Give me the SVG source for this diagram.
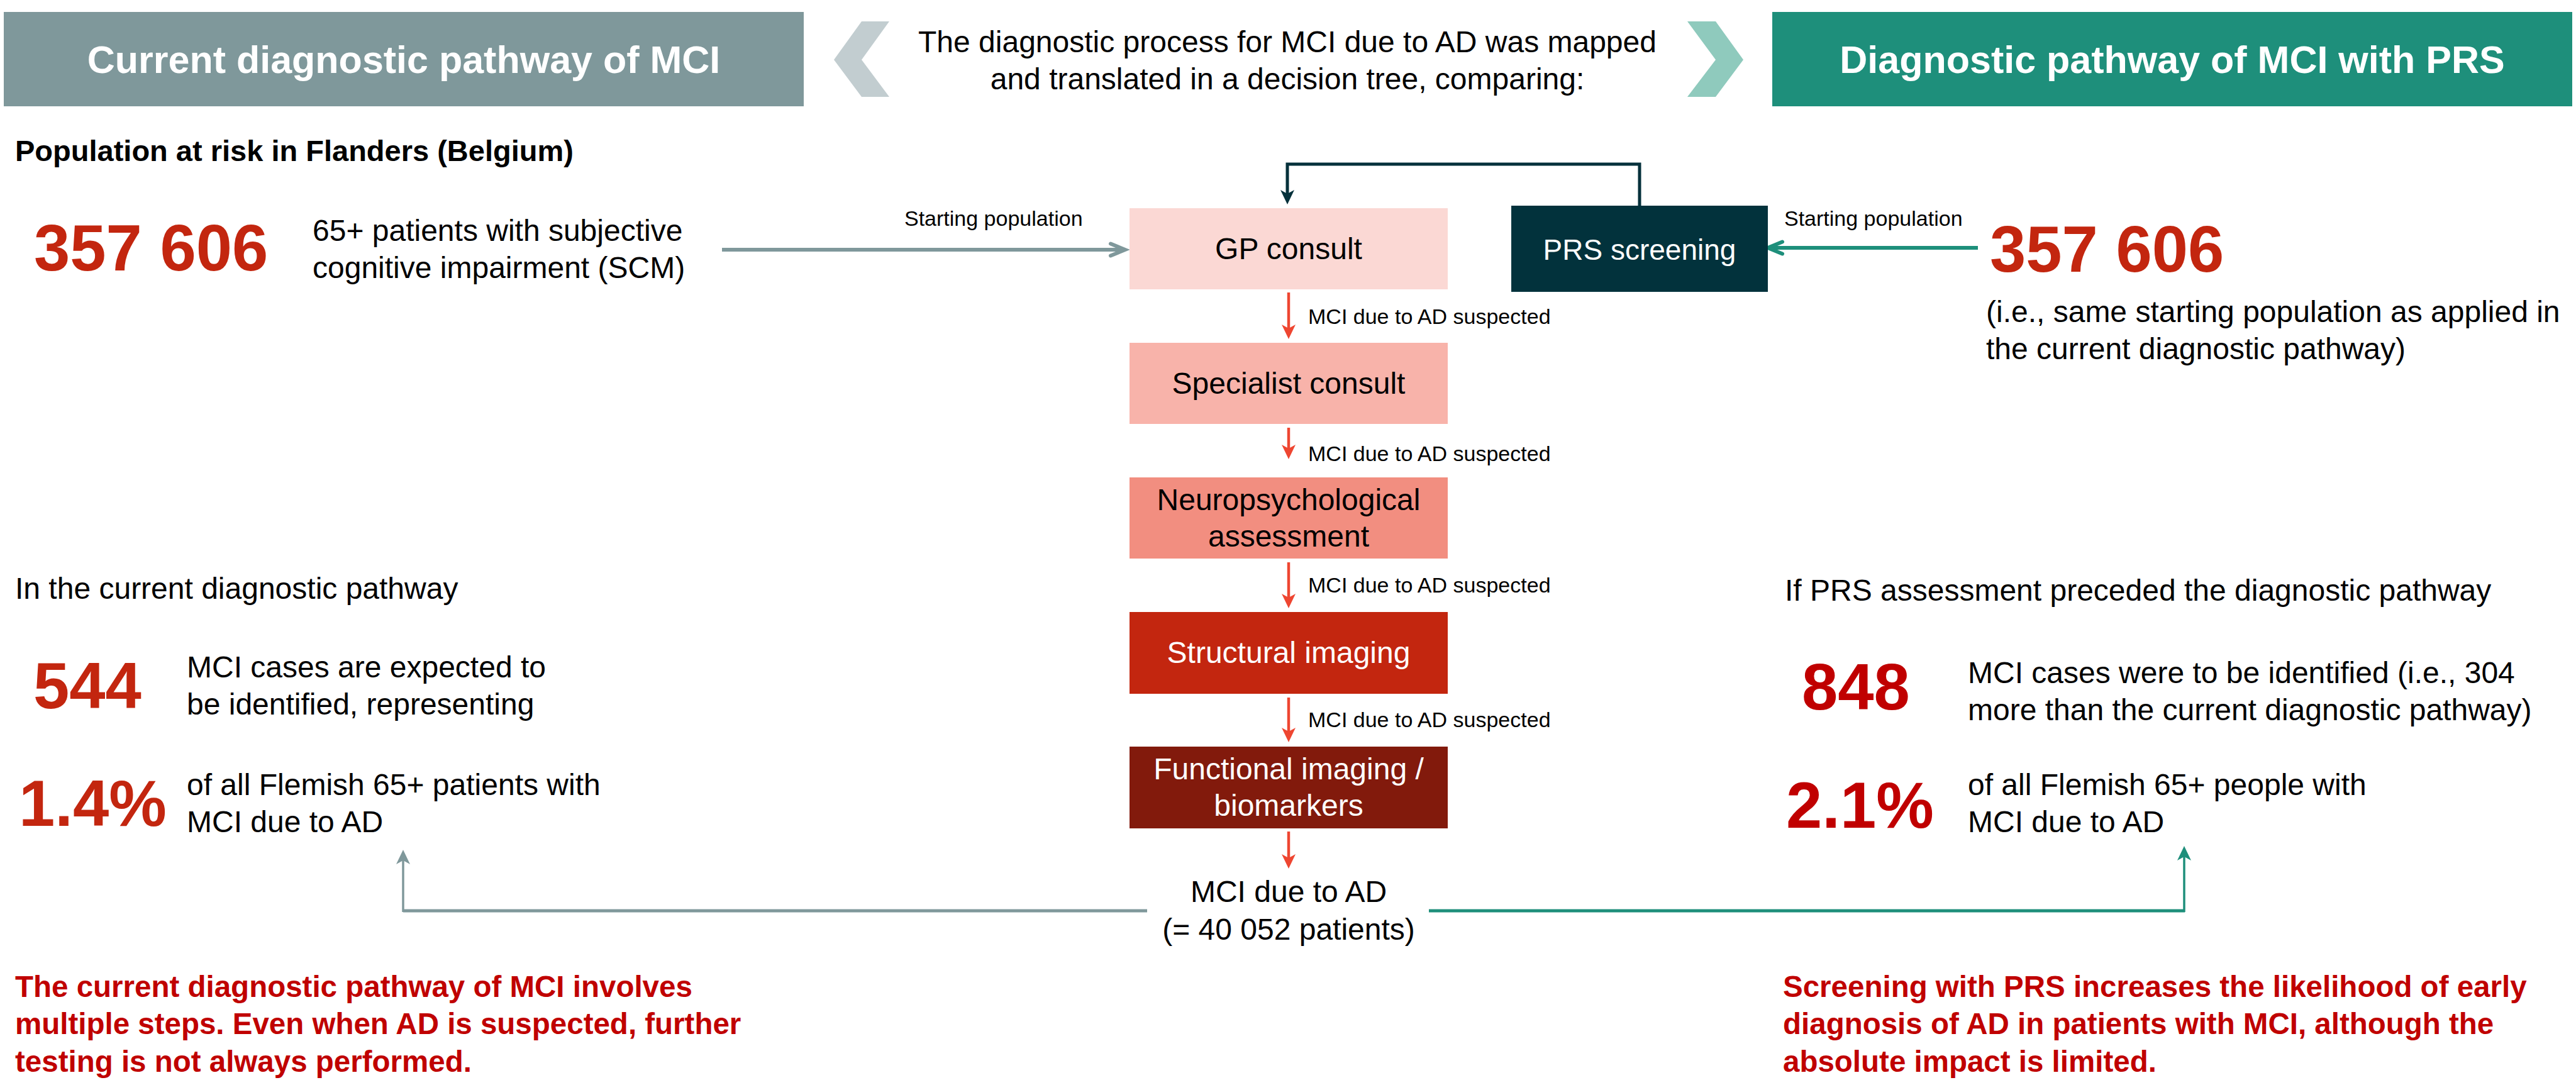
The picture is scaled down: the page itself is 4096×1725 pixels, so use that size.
<svg xmlns="http://www.w3.org/2000/svg" width="4096" height="1725" viewBox="0 0 4096 1725">
<style>
text{font-family:"Liberation Sans",Arial,sans-serif;fill:#000}
.hdr{font-size:61px;font-weight:bold;fill:#fff;text-anchor:middle}
.body{font-size:48px}
.mid{text-anchor:middle}
.lbl{font-size:34px}
.big{font-size:103px;font-weight:bold;fill:#C3260F}
.big2{font-size:103px;font-weight:bold;fill:#C00000}
.bold{font-size:47px;font-weight:bold}
.concl{font-size:47.5px;font-weight:bold;fill:#C00000}
.wt{fill:#fff}
.red{stroke:#EE4631;stroke-width:4.5;fill:none}
</style>
<defs>
<marker id="stRed" markerUnits="userSpaceOnUse" viewBox="0 0 24 24" markerWidth="24" markerHeight="24" refX="15" refY="12" orient="auto"><path d="M0,1 L23,12 L0,23 L6,12 Z" fill="#EE4631"/></marker>
<marker id="stDark" markerUnits="userSpaceOnUse" viewBox="0 0 24 24" markerWidth="24" markerHeight="24" refX="15" refY="12" orient="auto"><path d="M0,1 L23,12 L0,23 L6,12 Z" fill="#05313B"/></marker>
<marker id="stGray" markerUnits="userSpaceOnUse" viewBox="0 0 24 24" markerWidth="24" markerHeight="24" refX="15" refY="12" orient="auto"><path d="M0,1 L23,12 L0,23 L6,12 Z" fill="#7F989B"/></marker>
<marker id="stTeal" markerUnits="userSpaceOnUse" viewBox="0 0 24 24" markerWidth="24" markerHeight="24" refX="15" refY="12" orient="auto"><path d="M0,1 L23,12 L0,23 L6,12 Z" fill="#1E8F7B"/></marker>
<marker id="vGray" markerUnits="userSpaceOnUse" viewBox="0 0 30 26" markerWidth="30" markerHeight="26" refX="23" refY="13" orient="auto" overflow="visible"><path d="M3,3.5 L26,13 L3,22.5" fill="none" stroke="#7F989B" stroke-width="6" stroke-linecap="round" stroke-linejoin="miter"/></marker>
<marker id="vTeal" markerUnits="userSpaceOnUse" viewBox="0 0 30 26" markerWidth="30" markerHeight="26" refX="23" refY="13" orient="auto" overflow="visible"><path d="M3,3.5 L26,13 L3,22.5" fill="none" stroke="#1E8F7B" stroke-width="6" stroke-linecap="round" stroke-linejoin="miter"/></marker>
</defs>
<rect width="4096" height="1725" fill="#fff"/>

<g id="header-left">
<rect x="6" y="19" width="1272" height="150" fill="#7F989B"/>
<text class="hdr" x="642" y="116">Current diagnostic pathway of MCI</text>
</g>
<g id="header-right">
<rect x="2818" y="19" width="1272" height="150" fill="#1E8F7B"/>
<text class="hdr" x="3454" y="116">Diagnostic pathway of MCI with PRS</text>
</g>
<g id="intro">
<polygon points="1326,95 1370,34 1414,34 1370,95 1414,154 1370,154" fill="#C2CDD0"/>
<polygon points="2772,95 2728,34 2683,34 2728,95 2683,154 2728,154" fill="#8FCABD"/>
<text class="body mid" x="2047" y="83">The diagnostic process for MCI due to AD was mapped</text>
<text class="body mid" x="2047" y="142">and translated in a decision tree, comparing:</text>
</g>

<g id="connectors">
<line x1="1148" y1="397" x2="1786" y2="397" stroke="#7F989B" stroke-width="6" marker-end="url(#vGray)"/>
<line x1="3145" y1="394" x2="2814" y2="394" stroke="#1E8F7B" stroke-width="6" marker-end="url(#vTeal)"/>
<path d="M2607,327 V261 H2047 V317" fill="none" stroke="#05313B" stroke-width="5" marker-end="url(#stDark)"/>
<line class="red" x1="2049" y1="465" x2="2049" y2="531" marker-end="url(#stRed)"/>
<line class="red" x1="2049" y1="680" x2="2049" y2="722" marker-end="url(#stRed)"/>
<line class="red" x1="2049" y1="894" x2="2049" y2="959" marker-end="url(#stRed)"/>
<line class="red" x1="2049" y1="1109" x2="2049" y2="1172" marker-end="url(#stRed)"/>
<line class="red" x1="2049" y1="1322" x2="2049" y2="1373" marker-end="url(#stRed)"/>
<path d="M1824,1448 H641" fill="none" stroke="#7F989B" stroke-width="5"/>
<line x1="641" y1="1450" x2="641" y2="1359" stroke="#7F989B" stroke-width="3.5" marker-end="url(#stGray)"/>
<path d="M2272,1448 H3474" fill="none" stroke="#1E8F7B" stroke-width="5"/>
<line x1="3473" y1="1450" x2="3473" y2="1353" stroke="#1E8F7B" stroke-width="3.5" marker-end="url(#stTeal)"/>
<text class="lbl" x="1438" y="359">Starting population</text>
<text class="lbl" x="2837" y="359">Starting population</text>
<text class="lbl" x="2080" y="515">MCI due to AD suspected</text>
<text class="lbl" x="2080" y="733">MCI due to AD suspected</text>
<text class="lbl" x="2080" y="942">MCI due to AD suspected</text>
<text class="lbl" x="2080" y="1156">MCI due to AD suspected</text>
</g>

<g id="gp-consult">
<rect x="1796" y="331" width="506" height="129" fill="#FBD8D4"/>
<text class="body mid" x="2049" y="412">GP consult</text>
</g>
<g id="prs-screening">
<rect x="2403" y="327" width="408" height="137" fill="#02323C"/>
<text class="body mid wt" x="2607" y="413" style="font-size:46px">PRS screening</text>
</g>
<g id="specialist-consult">
<rect x="1796" y="545" width="506" height="129" fill="#F8B3AA"/>
<text class="body mid" x="2049" y="626">Specialist consult</text>
</g>
<g id="neuropsych">
<rect x="1796" y="759" width="506" height="129" fill="#F28E80"/>
<text class="body mid" x="2049" y="811">Neuropsychological</text>
<text class="body mid" x="2049" y="869">assessment</text>
</g>
<g id="structural-imaging">
<rect x="1796" y="973" width="506" height="130" fill="#C3260F"/>
<text class="body mid wt" x="2049" y="1054">Structural imaging</text>
</g>
<g id="functional-imaging">
<rect x="1796" y="1187" width="506" height="130" fill="#821A0C"/>
<text class="body mid wt" x="2049" y="1239">Functional imaging /</text>
<text class="body mid wt" x="2049" y="1297">biomarkers</text>
</g>
<g id="outcome">
<text class="body mid" x="2049" y="1434">MCI due to AD</text>
<text class="body mid" x="2049" y="1494">(= 40 052 patients)</text>
</g>

<g id="left-population">
<text class="bold" x="24" y="256">Population at risk in Flanders (Belgium)</text>
<text class="big" x="54" y="430">357 606</text>
<text class="body" x="497" y="383">65+ patients with subjective</text>
<text class="body" x="497" y="442">cognitive impairment (SCM)</text>
</g>
<g id="right-population">
<text class="big" x="3164" y="432">357 606</text>
<text class="body" x="3158" y="512">(i.e., same starting population as applied in</text>
<text class="body" x="3158" y="571">the current diagnostic pathway)</text>
</g>
<g id="left-results">
<text class="body" x="24" y="952">In the current diagnostic pathway</text>
<text class="big" x="53" y="1126">544</text>
<text class="body" x="297" y="1077">MCI cases are expected to</text>
<text class="body" x="297" y="1136">be identified, representing</text>
<text class="big" x="30" y="1313">1.4%</text>
<text class="body" x="297" y="1264">of all Flemish 65+ patients with</text>
<text class="body" x="297" y="1323">MCI due to AD</text>
</g>
<g id="right-results">
<text class="body" x="2838" y="955">If PRS assessment preceded the diagnostic pathway</text>
<text class="big2" x="2865" y="1128">848</text>
<text class="body" x="3129" y="1086">MCI cases were to be identified (i.e., 304</text>
<text class="body" x="3129" y="1145">more than the current diagnostic pathway)</text>
<text class="big2" x="2840" y="1316">2.1%</text>
<text class="body" x="3129" y="1264">of all Flemish 65+ people with</text>
<text class="body" x="3129" y="1323">MCI due to AD</text>
</g>
<g id="left-conclusion">
<text class="concl" x="24" y="1585">The current diagnostic pathway of MCI involves</text>
<text class="concl" x="24" y="1644">multiple steps. Even when AD is suspected, further</text>
<text class="concl" x="24" y="1704">testing is not always performed.</text>
</g>
<g id="right-conclusion">
<text class="concl" x="2835" y="1585">Screening with PRS increases the likelihood of early</text>
<text class="concl" x="2835" y="1644">diagnosis of AD in patients with MCI, although the</text>
<text class="concl" x="2835" y="1704">absolute impact is limited.</text>
</g>
</svg>
